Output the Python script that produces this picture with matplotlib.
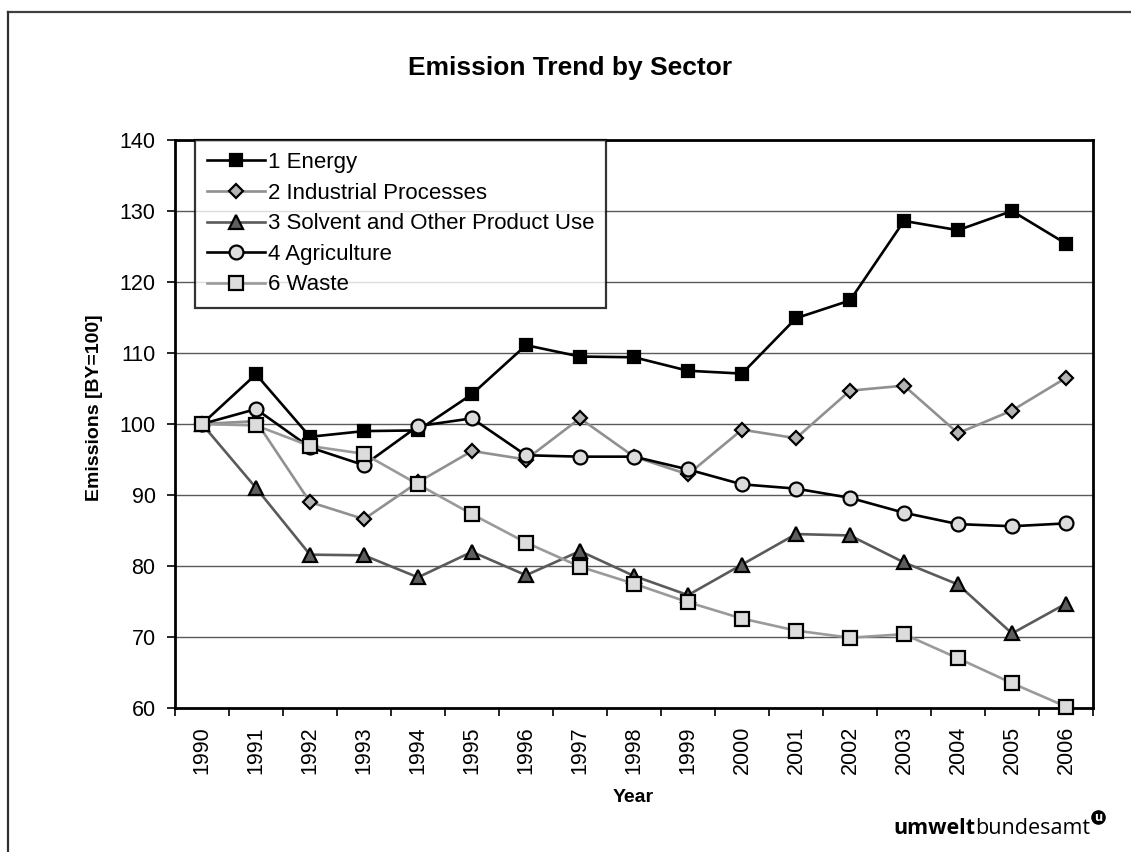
import matplotlib
matplotlib.use("Agg")
import matplotlib.pyplot as plt
from matplotlib.lines import Line2D
import numpy as np

plt.rcParams['font.family'] = ['Liberation Sans', 'DejaVu Sans']

years = ['1990', '1991', '1992', '1993', '1994', '1995', '1996', '1997', '1998',
         '1999', '2000', '2001', '2002', '2003', '2004', '2005', '2006']

energy = [100.0, 107.0, 98.2, 99.0, 99.1, 104.2, 111.1, 109.5, 109.4,
          107.5, 107.1, 114.9, 117.4, 128.6, 127.3, 130.0, 125.4]
industrial = [100.0, 100.4, 89.0, 86.6, 91.8, 96.2, 95.0, 100.8, 95.4,
              92.9, 99.2, 98.0, 104.7, 105.4, 98.7, 101.9, 106.5]
solvent = [100.0, 91.0, 81.6, 81.5, 78.4, 82.0, 78.7, 82.1, 78.6,
           75.9, 80.2, 84.5, 84.3, 80.5, 77.4, 70.5, 74.7]
agriculture = [100.0, 102.1, 96.7, 94.2, 99.7, 100.8, 95.6, 95.4, 95.4,
               93.6, 91.5, 90.9, 89.6, 87.5, 85.9, 85.6, 86.0]
waste = [100.0, 99.8, 96.9, 95.8, 91.5, 87.3, 83.3, 79.9, 77.5,
         74.9, 72.6, 70.9, 69.9, 70.4, 67.0, 63.5, 60.2]

labels = ['1 Energy', '2 Industrial Processes', '3 Solvent and Other Product Use',
          '4 Agriculture', '6 Waste']

W, H = 1131, 852
fig = plt.figure(figsize=(W / 100, H / 100), dpi=100)


def fx(px):
    return px / W


def fy(py):
    return 1 - py / H


# outer frame (top and left edges)
fig.add_artist(Line2D([fx(8), 1.0], [fy(12), fy(12)], color='#404040', lw=1.6))
fig.add_artist(Line2D([fx(8), fx(8)], [0.0, fy(12)], color='#303030', lw=1.6))

ax = fig.add_axes([fx(175), fy(708), (1093 - 175) / W, (708 - 140) / H])
x = np.arange(len(years))

styles = [
    dict(color='black', marker='s', mfc='black', mec='black', ms=8.5),
    dict(color='#909090', marker='D', mfc='#b4b4b4', mec='black', ms=7),
    dict(color='#5a5a5a', marker='^', mfc='#5e5e5e', mec='black', ms=10),
    dict(color='black', marker='o', mfc='#dcdcdc', mec='black', ms=10),
    dict(color='#9a9a9a', marker='s', mfc='#dcdcdc', mec='black', ms=10),
]
series = [energy, industrial, solvent, agriculture, waste]
handles = []
for i, (vals, st, lab) in enumerate(zip(series, styles, labels)):
    h, = ax.plot(x, vals, lw=1.9, mew=1.6, label=lab, zorder=3 + i,
                 clip_on=False, **st)
    handles.append(h)

ax.set_xlim(-0.5, len(years) - 0.5)
ax.set_ylim(60, 140)
ax.set_yticks(np.arange(60, 141, 10))
ax.yaxis.grid(True, color='#5a5a5a', lw=1.0)
ax.set_axisbelow(True)

# category boundaries as ticks, labels at category centres
ax.set_xticks(np.arange(-0.5, len(years), 1.0))
ax.set_xticklabels([])
ax.set_xticks(x, minor=True)
ax.set_xticklabels(years, minor=True, rotation=90, fontsize=15.5)
ax.tick_params(axis='x', which='major', direction='out', length=6, width=1.2)
ax.tick_params(axis='x', which='minor', length=0, pad=13)
ax.tick_params(axis='y', direction='out', length=6, width=1.2, labelsize=15.5, pad=8)

for s in ax.spines.values():
    s.set_linewidth(2.0)
    s.set_color('black')

fig.text(fx(633), fy(797), 'Year', fontsize=14, fontweight='bold',
         ha='center', va='center')
fig.text(fx(95), fy(408), 'Emissions [BY=100]', fontsize=14, fontweight='bold',
         ha='center', va='center', rotation=90)

fig.text(fx(570), fy(68), 'Emission Trend by Sector',
         ha='center', va='center', fontsize=19, fontweight='bold')

leg = ax.legend(handles=handles, loc='upper left', bbox_to_anchor=(20 / 918, 1.0),
                fontsize=16, frameon=True, fancybox=False, borderpad=0.55,
                labelspacing=0.43, handlelength=2.6, handletextpad=0.12,
                borderaxespad=0.0)
leg.get_frame().set_edgecolor('black')
leg.get_frame().set_linewidth(1.6)
leg.set_zorder(20)

# logo text at the lower right
t1 = fig.text(fx(893), fy(829), 'umwelt', fontsize=15.5, fontweight='bold',
              ha='left', va='center', family=['Open Sans', 'DejaVu Sans'])
fig.canvas.draw()
bb = t1.get_window_extent()
t2 = fig.text(bb.x1 / W, fy(829), 'bundesamt', fontsize=15.5,
              ha='left', va='center', family=['Open Sans', 'DejaVu Sans'])
fig.canvas.draw()
bb2 = t2.get_window_extent()
cx = bb2.x1 + 8
fig.add_artist(Line2D([cx / W], [fy(817)], marker='o', ms=9.5, mfc='black',
                      mec='black', lw=0))
fig.text(cx / W, fy(817.5), 'u', fontsize=8.5, fontweight='bold', color='white',
         ha='center', va='center', family=['DejaVu Sans'])

fig.savefig('out.png', dpi=100)
